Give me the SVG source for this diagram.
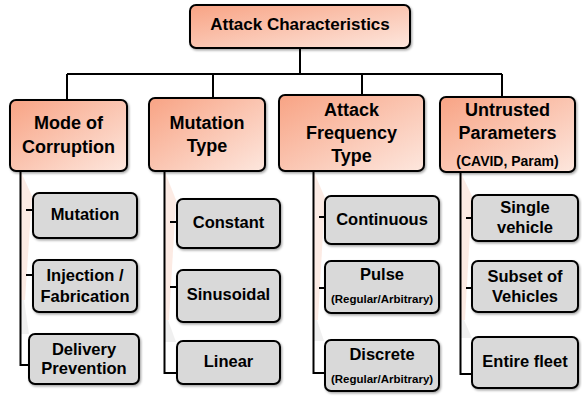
<svg xmlns="http://www.w3.org/2000/svg" width="582" height="396" viewBox="0 0 582 396">
<defs>
<linearGradient id="og" x1="0" y1="0" x2="1" y2="1">
<stop offset="0" stop-color="#F8A384"/>
<stop offset="1" stop-color="#FDE7DE"/>
</linearGradient>
<filter id="sh" x="-10%" y="-10%" width="130%" height="130%">
<feDropShadow dx="1.2" dy="1.5" stdDeviation="1" flood-color="#000" flood-opacity="0.35"/>
</filter>
<style>
.p{fill:url(#og);stroke:#000;stroke-width:2;filter:url(#sh)}
.c{fill:#D9D9D9;stroke:#000;stroke-width:2;filter:url(#sh)}
text{font-family:"Liberation Sans",Arial,sans-serif;font-weight:bold;fill:#000;text-anchor:middle}
.t1{font-size:17px}
.t2{font-size:18px}
.t3{font-size:16.5px}
.s{font-size:11.5px}
.s2{font-size:14px}
.ln{fill:none;stroke:#000;stroke-width:2}
.rf{fill:#FBE3D8;opacity:0.7}
.rg{fill:#E9E9E9;opacity:0.7}
</style>
</defs>
<g id="reflections">
<polygon class="rf" points="21,172 32,196 25,300 21,300"/>
<polygon class="rg" points="21,300 24,300 29,334 21,334"/>
<polygon class="rf" points="165,172 176,200 169,320 165,320"/>
<polygon class="rg" points="165,320 168,320 176,342 165,342"/>
<polygon class="rf" points="314,172 325,198 318,320 314,320"/>
<polygon class="rg" points="314,320 317,320 324,341 314,341"/>
<polygon class="rf" points="461,173 472,196 465,320 461,320"/>
<polygon class="rg" points="461,320 464,320 472,338 461,338"/>
</g>
<g id="connectors">
<path class="ln" d="M300,48 V74 M67,74 H502 M67,74 V100 M213,74 V98 M362,74 V95 M502,74 V97"/>
<path class="ln" d="M20.5,171 V365 H29 M26,210 H33 M26,275 H33"/>
<path class="ln" d="M164.5,171 V373 H177 M170,222 H177 M170,287 H177"/>
<path class="ln" d="M313.5,171 V373 H325 M319,217 H325 M319,288 H325"/>
<path class="ln" d="M460.5,172 V374 H472 M466,218 H472 M466,288 H472"/>
</g>
<g id="attack-characteristics">
<rect class="p" x="190" y="5" width="220" height="43" rx="6"/>
<text class="t1" x="300" y="30">Attack Characteristics</text>
</g>
<g id="mode-of-corruption">
<rect class="p" x="10" y="100" width="117" height="71" rx="6"/>
<text class="t2" x="68.5" y="129">Mode of</text>
<text class="t2" x="68.5" y="153">Corruption</text>
</g>
<g id="mutation-type">
<rect class="p" x="149" y="98" width="116" height="73" rx="6"/>
<text class="t2" x="207" y="129">Mutation</text>
<text class="t2" x="207" y="152">Type</text>
</g>
<g id="attack-frequency-type">
<rect class="p" x="279" y="95" width="145" height="76" rx="6"/>
<text class="t2" x="351.5" y="116">Attack</text>
<text class="t2" x="351.5" y="139">Frequency</text>
<text class="t2" x="351.5" y="162">Type</text>
</g>
<g id="untrusted-parameters">
<rect class="p" x="440" y="97" width="135" height="75" rx="6"/>
<text class="t2" x="507.5" y="116">Untrusted</text>
<text class="t2" x="507.5" y="139">Parameters</text>
<text class="s2" x="507.5" y="166">(CAVID, Param)</text>
</g>
<g id="mutation">
<rect class="c" x="33" y="193" width="104" height="45" rx="6"/>
<text class="t3" x="85" y="220">Mutation</text>
</g>
<g id="injection-fabrication">
<rect class="c" x="33" y="260" width="104" height="52" rx="6"/>
<text class="t3" x="85" y="281">Injection /</text>
<text class="t3" x="85" y="302">Fabrication</text>
</g>
<g id="delivery-prevention">
<rect class="c" x="29" y="334" width="110" height="50" rx="6"/>
<text class="t3" x="84" y="355">Delivery</text>
<text class="t3" x="84" y="374">Prevention</text>
</g>
<g id="constant">
<rect class="c" x="177" y="199" width="103" height="49" rx="6"/>
<text class="t3" x="228.5" y="228">Constant</text>
</g>
<g id="sinusoidal">
<rect class="c" x="177" y="270" width="103" height="52" rx="6"/>
<text class="t3" x="228.5" y="300">Sinusoidal</text>
</g>
<g id="linear">
<rect class="c" x="177" y="341" width="103" height="43" rx="6"/>
<text class="t3" x="228.5" y="367">Linear</text>
</g>
<g id="continuous">
<rect class="c" x="325" y="196" width="114" height="48" rx="6"/>
<text class="t3" x="382" y="225">Continuous</text>
</g>
<g id="pulse">
<rect class="c" x="325" y="261" width="114" height="52" rx="6"/>
<text class="t3" x="382" y="280">Pulse</text>
<text class="s" x="382" y="303">(Regular/Arbitrary)</text>
</g>
<g id="discrete">
<rect class="c" x="325" y="340" width="114" height="51" rx="6"/>
<text class="t3" x="382" y="360">Discrete</text>
<text class="s" x="382" y="383">(Regular/Arbitrary)</text>
</g>
<g id="single-vehicle">
<rect class="c" x="472" y="195" width="106" height="46" rx="6"/>
<text class="t3" x="525" y="213">Single</text>
<text class="t3" x="525" y="233">vehicle</text>
</g>
<g id="subset-of-vehicles">
<rect class="c" x="472" y="261" width="106" height="51" rx="6"/>
<text class="t3" x="525" y="282">Subset of</text>
<text class="t3" x="525" y="302">Vehicles</text>
</g>
<g id="entire-fleet">
<rect class="c" x="472" y="337" width="106" height="51" rx="6"/>
<text class="t3" x="525" y="367">Entire fleet</text>
</g>
</svg>
